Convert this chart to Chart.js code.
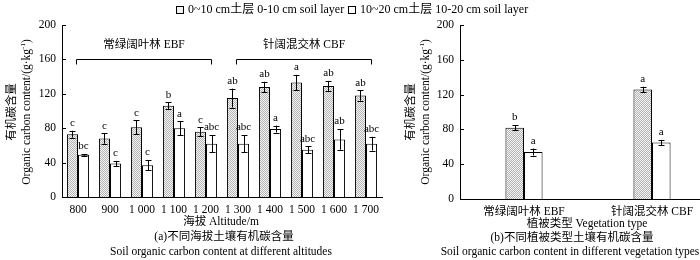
<!DOCTYPE html>
<html>
<head>
<meta charset="utf-8">
<script src="https://cdn.jsdelivr.net/npm/chart.js@4"></script>
<style>
  html, body { margin: 0; padding: 0; background: #fff; }
  body { width: 700px; height: 260px; position: relative; overflow: hidden;
         font-family: "Liberation Serif", "Noto Sans CJK SC", serif; color: #000; }
  canvas { position: absolute; top: 0; }
  .t { position: absolute; white-space: nowrap; font-size: 11.5px; line-height: 1; transform: translate(-50%, -50%); }
  .v { position: absolute; white-space: nowrap; font-size: 11.5px; line-height: 1; transform: translate(-50%, -50%) rotate(-90deg); }
  .sw { display: inline-block; width: 8px; height: 8px; border: 1px solid #000; margin-right: 4px; vertical-align: -1px; box-sizing: border-box; }
  .dot { background-image: radial-gradient(#999 0.7px, #f2f2f2 0.7px); background-size: 2px 2px; }
</style>
</head>
<body>
<canvas id="altChart" width="395" height="260" style="left:0"></canvas>
<canvas id="vegChart" width="330" height="260" style="left:395px"></canvas>

<div class="t" style="left:176px;top:9px;transform:translate(0,-50%);font-size:12px"><span class="sw dot"></span>0~10 cm土层 0-10 cm soil layer</div>
<div class="t" style="left:348px;top:9px;transform:translate(0,-50%);font-size:12px"><span class="sw"></span>10~20 cm土层 10-20 cm soil layer</div>

<div class="v" style="left:12px;top:112px">有机碳含量</div>
<div class="v" style="left:26px;top:112px">Organic carbon content/(g·kg<sup style="font-size:7px">-1</sup>)</div>
<div class="v" style="left:411px;top:112px">有机碳含量</div>
<div class="v" style="left:425px;top:112px">Organic carbon content/(g·kg<sup style="font-size:7px">-1</sup>)</div>

<div class="t" style="left:221px;top:222px">海拔 Altitude/m</div>
<div class="t" style="left:224px;top:237px">(a)不同海拔土壤有机碳含量</div>
<div class="t" style="left:221px;top:252px">Soil organic carbon content at different altitudes</div>
<div class="t" style="left:587px;top:224px">植被类型 Vegetation type</div>
<div class="t" style="left:572px;top:238px">(b)不同植被类型土壤有机碳含量</div>
<div class="t" style="left:570px;top:252px">Soil organic carbon content in different vegetation types</div>

<script>
// altitude data (chart a)
const altitudes = ["800", "900", "1 000", "1 100", "1 200", "1 300", "1 400", "1 500", "1 600", "1 700"];
const altTop = [73, 68, 81, 106, 76, 115, 128, 133, 129, 118];
const altTopErr = [4, 6, 8, 4, 5, 11, 6, 9, 6, 6];
const altTopLetters = ["c", "c", "c", "b", "c", "ab", "ab", "a", "ab", "ab"];
const altSub = [49, 39, 37, 80, 62, 62, 79, 55, 67, 62];
const altSubErr = [1, 3, 6, 8, 10, 10, 4, 4, 12, 8];
const altSubLetters = ["bc", "c", "c", "a", "abc", "abc", "a", "abc", "ab", "abc"];

// forest groups above chart a
const groupNames = ["常绿阔叶林 EBF", "针阔混交林 CBF"];
const groupFirst = [0, 5];
const groupLast = [4, 9];

// vegetation data (chart b)
const vegTypes = ["常绿阔叶林 EBF", "针阔混交林 CBF"];
const vegTop = [82, 126];
const vegTopErr = [3, 3];
const vegTopLetters = ["b", "a"];
const vegSub = [54, 65];
const vegSubErr = [4, 3];
const vegSubLetters = ["a", "a"];

const yTicks = [0, 40, 80, 120, 160, 200];

const FONT = "'Liberation Serif', 'Noto Sans CJK SC', serif";

function makeDots() {
    const c = document.createElement("canvas");
    c.width = 2; c.height = 2;
    const g = c.getContext("2d");
    g.fillStyle = "#f4f4f4";
    g.fillRect(0, 0, 2, 2);
    g.fillStyle = "#b4b4b4";
    g.fillRect(0, 0, 1, 1);
    g.fillRect(1, 1, 1, 1);
    return g.createPattern(c, "repeat");
}

const errorPlugin = {
    id: "errorBars",
    afterDatasetsDraw(chart) {
        const ctx = chart.ctx;
        const y = chart.scales.y;
        const area = chart.chartArea;
        ctx.save();
        ctx.strokeStyle = "#000";
        ctx.fillStyle = "#000";
        ctx.lineWidth = 1;
        ctx.font = "11px " + FONT;
        ctx.textAlign = "center";
        ctx.textBaseline = "bottom";
        chart.data.datasets.forEach((ds, di) => {
            const meta = chart.getDatasetMeta(di);
            meta.data.forEach((bar, i) => {
                const v = ds.data[i];
                const e = ds.errors[i];
                const top = y.getPixelForValue(v + e);
                const bot = y.getPixelForValue(v - e);
                const x = Math.round(bar.x) + 0.5;
                ctx.beginPath();
                ctx.moveTo(x, top); ctx.lineTo(x, bot);
                ctx.moveTo(x - 3, Math.round(top) + 0.5); ctx.lineTo(x + 3, Math.round(top) + 0.5);
                ctx.moveTo(x - 3, Math.round(bot) + 0.5); ctx.lineTo(x + 3, Math.round(bot) + 0.5);
                ctx.stroke();
                ctx.fillText(ds.letters[i], bar.x, top - 2);
            });
        });
        // inward tick marks on the y axis
        y.ticks.forEach(t => {
            const py = Math.round(y.getPixelForValue(t.value)) + 0.5;
            ctx.beginPath();
            ctx.moveTo(area.left, py);
            ctx.lineTo(area.left + 4, py);
            ctx.stroke();
        });
        ctx.restore();
    }
};

const bracketPlugin = {
    id: "brackets",
    afterDraw(chart) {
        const ctx = chart.ctx;
        const x = chart.scales.x;
        const y = chart.scales.y;
        ctx.save();
        ctx.strokeStyle = "#000";
        ctx.fillStyle = "#000";
        ctx.lineWidth = 1;
        ctx.font = "11.5px " + FONT;
        ctx.textAlign = "center";
        ctx.textBaseline = "middle";
        groupNames.forEach((name, g) => {
            const x0 = Math.round(x.getPixelForValue(groupFirst[g])) - 1.5;
            const x1 = Math.round(x.getPixelForValue(groupLast[g])) + 5.5;
            const py = Math.round(y.getPixelForValue(160)) + 0.5;
            ctx.beginPath();
            ctx.moveTo(x0, py + 5); ctx.lineTo(x0, py); ctx.lineTo(x1, py); ctx.lineTo(x1, py + 5);
            ctx.stroke();
            ctx.fillText(name, (x0 + x1) / 2, y.getPixelForValue(177));
        });
        ctx.restore();
    }
};

function buildChart(id, labels, topVals, topErr, topLet, subVals, subErr, subLet, opts) {
    const canvas = document.getElementById(id);
    const ctx = canvas.getContext("2d");
    const dots = makeDots();
    return new Chart(ctx, {
        type: "bar",
        data: {
            labels: labels,
            datasets: [
                {
                    label: "0~10 cm土层 0-10 cm soil layer",
                    data: topVals,
                    errors: topErr,
                    letters: topLet,
                    backgroundColor: dots,
                    borderColor: "#000",
                    borderWidth: 1,
                    categoryPercentage: opts.catPct,
                    barPercentage: 1.0
                },
                {
                    label: "10~20 cm土层 10-20 cm soil layer",
                    data: subVals,
                    errors: subErr,
                    letters: subLet,
                    backgroundColor: "#fff",
                    borderColor: "#000",
                    borderWidth: 1,
                    categoryPercentage: opts.catPct,
                    barPercentage: 1.0
                }
            ]
        },
        options: {
            responsive: false,
            animation: false,
            devicePixelRatio: 1,
            layout: { padding: { left: 0, top: 25, right: opts.padRight, bottom: opts.padBottom } },
            plugins: {
                legend: { display: false },
                tooltip: { enabled: false }
            },
            scales: {
                x: {
                    grid: { display: false, drawTicks: false },
                    border: { display: true, color: "#000", width: 1 },
                    ticks: {
                        color: "#000",
                        font: { family: FONT, size: 11.5 },
                        padding: 6,
                        maxRotation: 0,
                        autoSkip: false
                    },
                    afterFit: s => { s.height = opts.xHeight; }
                },
                y: {
                    min: 0,
                    max: 200,
                    afterBuildTicks: s => { s.ticks = yTicks.map(v => ({ value: v })); },
                    grid: { display: false, drawTicks: false },
                    border: { display: true, color: "#000", width: 1 },
                    ticks: {
                        color: "#000",
                        font: { family: FONT, size: 11.5 },
                        padding: 6
                    },
                    afterFit: s => { s.width = opts.yWidth; }
                }
            }
        },
        plugins: opts.plugins
    });
}

document.addEventListener("DOMContentLoaded", function () {
    if (typeof Chart === "undefined") {
        console.error("Chart.js not loaded");
        return;
    }
    buildChart("altChart", altitudes, altTop, altTopErr, altTopLetters, altSub, altSubErr, altSubLetters, {
        catPct: 0.69, padRight: 13, padBottom: 43, xHeight: 20, yWidth: 62,
        plugins: [errorPlugin, bracketPlugin]
    });
    buildChart("vegChart", vegTypes, vegTop, vegTopErr, vegTopLetters, vegSub, vegSubErr, vegSubLetters, {
        catPct: 0.29, padRight: 9, padBottom: 41, xHeight: 20, yWidth: 65,
        plugins: [errorPlugin]
    });
});
</script>
</body>
</html>
